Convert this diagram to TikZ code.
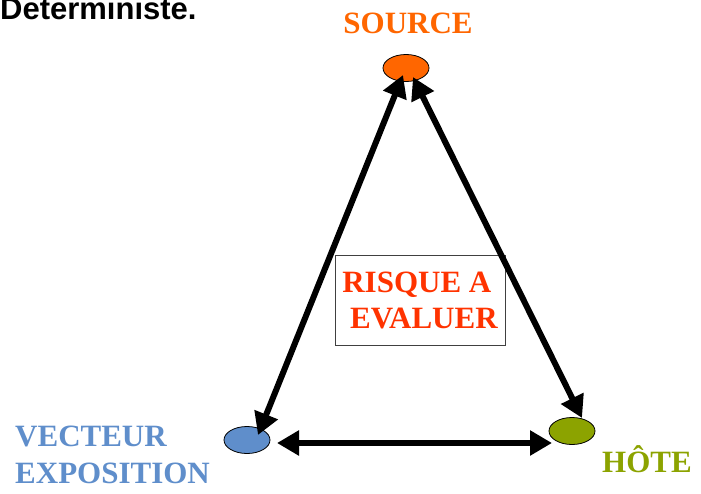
\documentclass[tikz,border=0pt]{standalone}
\usepackage{fontspec}
\setmainfont{Liberation Serif}
\newfontfamily\headfont{Liberation Sans}
\usepackage{xcolor}
\usetikzlibrary{arrows.meta,positioning,calc,shapes.geometric}
\definecolor{srcorange}{HTML}{FF6600}
\definecolor{riskred}{HTML}{FF3300}
\definecolor{vecblue}{RGB}{95,142,203}
\definecolor{hostgreen}{RGB}{140,163,0}
\tikzset{
  spot/.style={
    ellipse,
    draw=black,
    line width=0.8pt,
    inner sep=0pt,
    minimum width=46pt,
    minimum height=27pt
  },
  bigtitle/.style={
    font=\fontsize{31}{37}\selectfont\bfseries,
    inner sep=0pt
  },
  riskbox/.style={
    draw=black!75,
    line width=0.8pt,
    minimum width=170pt,
    minimum height=90pt,
    align=left,
    text=riskred,
    font=\fontsize{31}{36}\selectfont\bfseries
  },
  dblflow/.style={
    {Triangle[length=22pt,width=24pt]}-{Triangle[length=22pt,width=24pt]},
    line width=6pt
  }
}

\begin{document}
\begin{tikzpicture}[x=1pt,y=-1pt]
\useasboundingbox (0,0) rectangle (701,493);

\node[anchor=base west, inner sep=0pt, font=\headfont\fontsize{31}{37}\selectfont\bfseries] (title) at (0,19) {Deterministe.};

% the three poles
\node[spot, fill=srcorange] (src) at (406,68) {};
\node[spot, fill=vecblue] (vec) at (247,440) {};
\node[spot, fill=hostgreen] (hote) at (572,431) {};

\node[bigtitle, text=srcorange, anchor=base] (srclabel) at (408,33) {SOURCE};
\node[bigtitle, text=vecblue, anchor=north west, align=left] (veclabel) at (15,426) {VECTEUR\\EXPOSITION};
\node[bigtitle, text=hostgreen, anchor=base west] (hotelabel) at (602,472) {HÔTE};

\node[riskbox] (risk) at (420,300) {RISQUE A\\~EVALUER};

\draw[dblflow] ($(src.center)+(-3,7)$) -- ($(vec.center)+(11,-5)$);
\draw[dblflow] ($(src.center)+(7,9)$) -- ($(hote.center)+(10,-13)$);
\draw[dblflow] ($(vec.center)+(30,3)$) -- ($(hote.center)+(-20,12)$);
\end{tikzpicture}
\end{document}
